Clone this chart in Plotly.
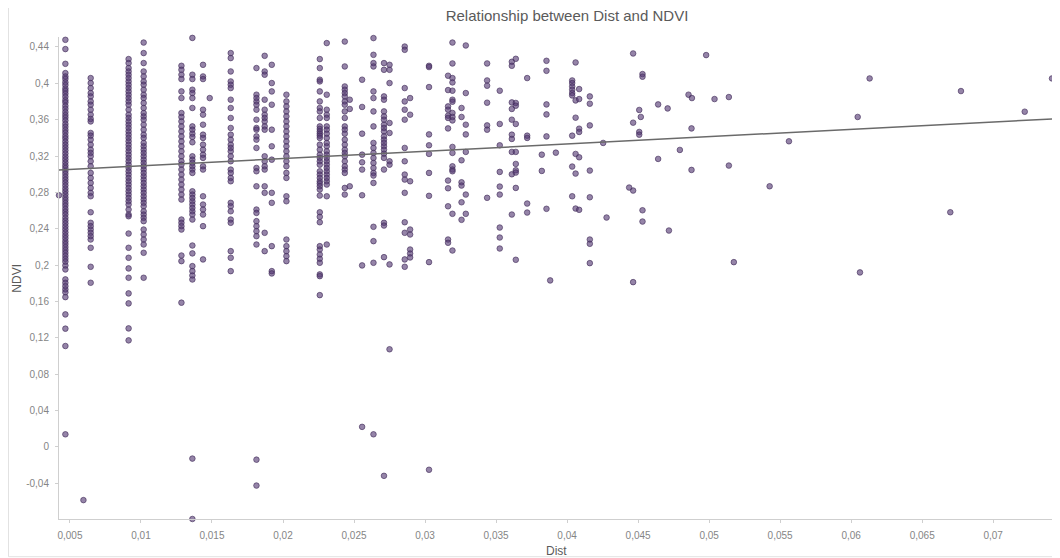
import plotly.graph_objects as go

# ---- data ----
column_dist = [0.00468, 0.00646, 0.00913, 0.01019, 0.01285, 0.01362, 0.01437, 0.01484,
               0.01632, 0.01813, 0.01871, 0.01921, 0.02024, 0.02259, 0.02308, 0.02435,
               0.02470, 0.02557, 0.02637, 0.02711, 0.02750, 0.02857, 0.02895, 0.03028,
               0.03162, 0.03193, 0.03257, 0.03287, 0.03437, 0.03526, 0.03611, 0.03639,
               0.03719, 0.03822, 0.03855, 0.03881, 0.03921, 0.04036, 0.04060, 0.04085,
               0.04160]

column_ndvi = [
    [0.4479, 0.4377, 0.4215, 0.4113, 0.4076, 0.4049, 0.4012, 0.3981, 0.3944, 0.3917, 0.3886, 0.3852,
     0.3815, 0.3789, 0.3752, 0.3720, 0.3684, 0.3651, 0.3622, 0.3590, 0.3553, 0.3521, 0.3487, 0.3456,
     0.3421, 0.3392, 0.3358, 0.3325, 0.3293, 0.3261, 0.3228, 0.3194, 0.3163, 0.3130, 0.3097, 0.3068,
     0.3035, 0.3004, 0.2971, 0.2940, 0.2908, 0.2876, 0.2842, 0.2811, 0.2779, 0.2746, 0.2716, 0.2683,
     0.2652, 0.2618, 0.2587, 0.2556, 0.2521, 0.2489, 0.2458, 0.2425, 0.2393, 0.2360, 0.2327, 0.2296,
     0.2262, 0.2231, 0.2198, 0.2166, 0.2134, 0.2101, 0.2068, 0.2037, 0.1995, 0.1952, 0.1842, 0.1805,
     0.1768, 0.1732, 0.1700, 0.1647, 0.1457, 0.1300, 0.1109, 0.0137],
    [0.4058, 0.4003, 0.3948, 0.3893, 0.3856, 0.3801, 0.3765, 0.3710, 0.3655, 0.3608, 0.3581, 0.3454,
     0.3424, 0.3380, 0.3325, 0.3270, 0.3234, 0.3197, 0.3142, 0.3087, 0.3014, 0.2959, 0.2904, 0.2849,
     0.2795, 0.2757, 0.2581, 0.2465, 0.2428, 0.2391, 0.2355, 0.2318, 0.2281, 0.2190, 0.1981, 0.1805],
    [0.4267, 0.4223, 0.4168, 0.4131, 0.4095, 0.4058, 0.4021, 0.3985, 0.3948, 0.3911, 0.3875, 0.3838,
     0.3801, 0.3765, 0.3710, 0.3655, 0.3619, 0.3581, 0.3545, 0.3509, 0.3471, 0.3435, 0.3399, 0.3362,
     0.3325, 0.3289, 0.3252, 0.3215, 0.3179, 0.3142, 0.3105, 0.3069, 0.3032, 0.2996, 0.2959, 0.2922,
     0.2886, 0.2849, 0.2812, 0.2776, 0.2739, 0.2702, 0.2666, 0.2611, 0.2556, 0.2537, 0.2347, 0.2190,
     0.2080, 0.1963, 0.1860, 0.1688, 0.1578, 0.1303, 0.1171],
    [0.4449, 0.4333, 0.4223, 0.4131, 0.4076, 0.4021, 0.3985, 0.3930, 0.3875, 0.3838, 0.3783, 0.3729,
     0.3673, 0.3636, 0.3600, 0.3545, 0.3490, 0.3435, 0.3399, 0.3344, 0.3307, 0.3270, 0.3234, 0.3197,
     0.3160, 0.3124, 0.3087, 0.3051, 0.3014, 0.2977, 0.2941, 0.2904, 0.2867, 0.2831, 0.2795, 0.2757,
     0.2721, 0.2685, 0.2647, 0.2592, 0.2556, 0.2520, 0.2483, 0.2391, 0.2336, 0.2281, 0.2226, 0.2135,
     0.1860],
    [0.4193, 0.4149, 0.4095, 0.4047, 0.3911, 0.3838, 0.3673, 0.3630, 0.3581, 0.3526, 0.3471, 0.3416,
     0.3361, 0.3307, 0.3252, 0.3197, 0.3142, 0.3105, 0.3051, 0.2996, 0.2941, 0.2886, 0.2831, 0.2776,
     0.2721, 0.2501, 0.2465, 0.2428, 0.2391, 0.2105, 0.2043, 0.1586],
    [0.4500, 0.4095, 0.4047, 0.3930, 0.3893, 0.3838, 0.3729, 0.3526, 0.3490, 0.3446, 0.3410, 0.3351,
     0.3197, 0.3160, 0.3124, 0.3087, 0.3051, 0.3014, 0.2812, 0.2776, 0.2739, 0.2702, 0.2666, 0.2629,
     0.2592, 0.2556, 0.2501, 0.2215, 0.2128, 0.1988, 0.1933, 0.1885, 0.1841, -0.0130, -0.0795],
    [0.4204, 0.4076, 0.4047, 0.3710, 0.3655, 0.3545, 0.3435, 0.3399, 0.3325, 0.3270, 0.3215, 0.3179,
     0.3087, 0.3051, 0.2757, 0.2666, 0.2611, 0.2556, 0.2428, 0.2062],
    [0.3838],
    [0.4333, 0.4278, 0.4131, 0.4021, 0.3985, 0.3948, 0.3820, 0.3729, 0.3619, 0.3509, 0.3435, 0.3380,
     0.3325, 0.3289, 0.3252, 0.3197, 0.3142, 0.3051, 0.3014, 0.2959, 0.2922, 0.2685, 0.2647, 0.2592,
     0.2501, 0.2465, 0.2153, 0.2080, 0.1933],
    [0.4168, 0.3875, 0.3838, 0.3801, 0.3765, 0.3710, 0.3600, 0.3509, 0.3490, 0.3416, 0.3380, 0.3289,
     0.3069, 0.3032, 0.2867, 0.2611, 0.2574, 0.2483, 0.2428, 0.2373, 0.2318, 0.2226, -0.0142, -0.0427],
    [0.4303, 0.4131, 0.4095, 0.3820, 0.3710, 0.3655, 0.3619, 0.3581, 0.3526, 0.3490, 0.3197, 0.3142,
     0.3087, 0.3051, 0.2867, 0.2795, 0.2355, 0.2153],
    [0.4204, 0.4003, 0.3911, 0.3765, 0.3490, 0.3307, 0.3160, 0.2795, 0.2685, 0.2208, 0.1933, 0.1908],
    [0.3875, 0.3801, 0.3746, 0.3691, 0.3636, 0.3581, 0.3526, 0.3471, 0.3416, 0.3361, 0.3307, 0.3252,
     0.3197, 0.3142, 0.3087, 0.3014, 0.2959, 0.2757, 0.2702, 0.2281, 0.2208, 0.2153, 0.2098, 0.2043],
    [0.4267, 0.4168, 0.4040, 0.4021, 0.3911, 0.3801, 0.3729, 0.3691, 0.3619, 0.3526, 0.3498, 0.3471,
     0.3446, 0.3424, 0.3399, 0.3325, 0.3270, 0.3215, 0.3179, 0.3142, 0.3105, 0.3032, 0.2996, 0.2959,
     0.2922, 0.2897, 0.2867, 0.2831, 0.2765, 0.2581, 0.2531, 0.2471, 0.2208, 0.2171, 0.2116, 0.2069,
     0.2025, 0.1897, 0.1878, 0.1669],
    [0.4443, 0.3875, 0.3710, 0.3655, 0.3619, 0.3526, 0.3490, 0.3446, 0.3399, 0.3344, 0.3307, 0.3252,
     0.3215, 0.3179, 0.3142, 0.3106, 0.3069, 0.3032, 0.2996, 0.2959, 0.2922, 0.2886, 0.2757, 0.2226],
    [0.4460, 0.4186, 0.3966, 0.3930, 0.3893, 0.3856, 0.3801, 0.3765, 0.3691, 0.3619, 0.3526, 0.3490,
     0.3446, 0.3380, 0.3325, 0.3270, 0.3234, 0.3197, 0.3142, 0.3087, 0.3051, 0.3014, 0.2849, 0.2776],
    [0.3820, 0.3718, 0.2867],
    [0.4040, 0.3740, 0.3446, 0.3215, 0.3131, 0.3051, 0.2768, 0.1996, 0.0219],
    [0.4498, 0.4314, 0.4223, 0.4186, 0.3911, 0.3838, 0.3691, 0.3526, 0.3344, 0.3289, 0.3234, 0.3179,
     0.3124, 0.3069, 0.3014, 0.2985, 0.2904, 0.2421, 0.2263, 0.2025, 0.0137],
    [0.4223, 0.4149, 0.3856, 0.3820, 0.3691, 0.3636, 0.3600, 0.3545, 0.3509, 0.3471, 0.3416, 0.3380,
     0.3344, 0.3307, 0.3270, 0.3226, 0.3179, 0.3051, 0.2465, 0.2435, 0.2087, -0.0320],
    [0.4204, 0.4149, 0.4003, 0.3564, 0.3454, 0.3142, 0.3105, 0.2007, 0.1073],
    [0.4405, 0.4369, 0.3948, 0.3801, 0.3710, 0.3600, 0.3289, 0.3142, 0.2996, 0.2941, 0.2795, 0.2471,
     0.2355, 0.2062, 0.1981],
    [0.3838, 0.3655, 0.2922, 0.2391, 0.2336, 0.2171, 0.2127, 0.2084],
    [0.4193, 0.4179, 0.3959, 0.3438, 0.3318, 0.3223, 0.3014, 0.2762, 0.2032, -0.0253],
    [0.4084, 0.3926, 0.3746, 0.3710, 0.3644, 0.3619, 0.3504, 0.2930, 0.2845, 0.2647, 0.2281, 0.2245],
    [0.4449, 0.4219, 0.4058, 0.4010, 0.3919, 0.3820, 0.3798, 0.3674, 0.3630, 0.3592, 0.3300, 0.3234,
     0.3087, 0.3051, 0.3032, 0.2564, 0.2160],
    [0.3729, 0.3630, 0.3153, 0.2911, 0.2875, 0.2691, 0.2498],
    [0.4417, 0.3893, 0.3545, 0.3438, 0.3245, 0.2776, 0.2564],
    [0.4219, 0.4032, 0.3974, 0.3787, 0.3537, 0.3490, 0.2740],
    [0.3919, 0.3553, 0.3318, 0.3025, 0.2864, 0.2776, 0.2413, 0.2303, 0.2182],
    [0.4237, 0.4193, 0.3790, 0.3718, 0.3600, 0.3435, 0.3388, 0.3245, 0.2999, 0.2556],
    [0.4270, 0.3784, 0.3754, 0.3553, 0.3245, 0.3113, 0.3043, 0.3018, 0.2849, 0.2058],
    [0.4058, 0.3424, 0.3399, 0.2677, 0.2578],
    [0.3215, 0.3036],
    [0.4248, 0.4138, 0.3768, 0.3658, 0.3416, 0.2619],
    [0.1831],
    [0.3237],
    [0.4032, 0.4003, 0.3966, 0.3930, 0.3893, 0.3867, 0.3424, 0.3084, 0.2757],
    [0.4230, 0.3812, 0.3622, 0.3223, 0.3007, 0.2622],
    [0.3937, 0.3827, 0.3501, 0.3465, 0.3186, 0.2608],
    [0.3856, 0.3776, 0.3537, 0.3040, 0.2746, 0.2281, 0.2234, 0.2021],
]

sparse_dist = [0.00423, 0.00595, 0.04254, 0.04278, 0.04465, 0.04465, 0.04465, 0.04465, 0.04437,
               0.04531, 0.04531, 0.04531, 0.04531, 0.04508, 0.04508, 0.04508, 0.04519, 0.04641,
               0.04641, 0.04708, 0.04717, 0.04794, 0.04855, 0.04879, 0.04876, 0.04876, 0.04979,
               0.05038, 0.05139, 0.05139, 0.05174, 0.05426, 0.05562, 0.06046, 0.06062, 0.06130,
               0.06698, 0.06773, 0.07222, 0.07414]
sparse_ndvi = [0.2768, -0.0587, 0.3344, 0.2523, 0.4329, 0.3567, 0.2820, 0.1812, 0.2853,
               0.4102, 0.4073, 0.2603, 0.2479, 0.3707, 0.3465, 0.3435, 0.3630, 0.3768,
               0.3168, 0.3724, 0.2380, 0.3267, 0.3875, 0.3838, 0.3504, 0.3047, 0.4311,
               0.3827, 0.3849, 0.3095, 0.2032, 0.2867, 0.3362, 0.3630, 0.1919, 0.4054,
               0.2581, 0.3915, 0.3688, 0.4054]

trend_dist = [0.00423, 0.07421]
trend_ndvi = [0.3045, 0.3608]

y_tick_vals = [-0.04, 0.0, 0.04, 0.08, 0.12, 0.16, 0.2, 0.24, 0.28, 0.32, 0.36, 0.4, 0.44]
y_tick_text = ["-0,04", "0", "0,04", "0,08", "0,12", "0,16", "0,2", "0,24", "0,28", "0,32",
               "0,36", "0,4", "0,44"]
x_tick_vals = [0.005, 0.01, 0.015, 0.02, 0.025, 0.03, 0.035, 0.04, 0.045, 0.05, 0.055, 0.06,
               0.065, 0.07]
x_tick_text = ["0,005", "0,01", "0,015", "0,02", "0,025", "0,03", "0,035", "0,04", "0,045",
               "0,05", "0,055", "0,06", "0,065", "0,07"]

# ---- build point arrays ----
xs, ys = [], []
for d, col in zip(column_dist, column_ndvi):
    for v in col:
        xs.append(d)
        ys.append(v)
xs += sparse_dist
ys += sparse_ndvi

fig = go.Figure()
fig.add_trace(go.Scatter(
    x=xs, y=ys, mode="markers", cliponaxis=False,
    marker=dict(size=5.6, color="rgba(84,56,114,0.62)",
                line=dict(color="rgba(66,44,90,0.7)", width=0.9)),
    showlegend=False, hoverinfo="skip"))
fig.add_trace(go.Scatter(
    x=trend_dist, y=trend_ndvi, mode="lines",
    line=dict(color="#6a6a6a", width=1.5), showlegend=False))

# page body has an 8px margin, so the figure is sized to fit inside the window
W, H = 1052, 550
L, R, T, B = 51, 7, 29, 39
pw, ph = W - L - R, H - T - B

fig.update_layout(
    width=W, height=H, margin=dict(l=L, r=R, t=T, b=B),
    paper_bgcolor="white", plot_bgcolor="white",
    font=dict(family="Liberation Sans, Arial, sans-serif", color="#858585", size=10),
    title=dict(text="Relationship between Dist and NDVI", x=559 / W, xanchor="center",
               y=1 - 8 / H, yanchor="middle",
               font=dict(size=15, color="#5a5a5a", family="Liberation Sans, Arial, sans-serif")),
    xaxis=dict(range=[0.00423, 0.07421], showgrid=False, zeroline=False,
               showline=True, linecolor="#cfcfcf", linewidth=1,
               ticks="outside", ticklen=3, tickcolor="#cfcfcf", ticklabelstandoff=4,
               tickvals=x_tick_vals, ticktext=x_tick_text),
    yaxis=dict(range=[-0.0795, 0.451], showgrid=False, zeroline=False,
               showline=True, linecolor="#cfcfcf", linewidth=1,
               ticks="outside", ticklen=3, tickcolor="#cfcfcf", ticklabelstandoff=4,
               tickvals=y_tick_vals, ticktext=y_tick_text),
    annotations=[
        dict(text="NDVI", xref="paper", yref="paper", x=(8.7 - L) / pw, y=0.5,
             textangle=-90, showarrow=False, xanchor="center", yanchor="middle",
             font=dict(size=12, color="#5a5a5a")),
        dict(text="Dist", xref="paper", yref="paper", x=0.5, y=(H - B - 543) / ph,
             showarrow=False, xanchor="center", yanchor="middle",
             font=dict(size=12, color="#5a5a5a")),
    ],
    shapes=[dict(type="rect", xref="paper", yref="paper",
                 x0=(0.5 - L) / pw, x1=(1051 - L) / pw,
                 y0=(H - B - 548.7) / ph, y1=(H - B + 10) / ph,
                 line=dict(color="#e2e2e2", width=1), fillcolor="rgba(0,0,0,0)")],
)

fig.write_html("out.html")
